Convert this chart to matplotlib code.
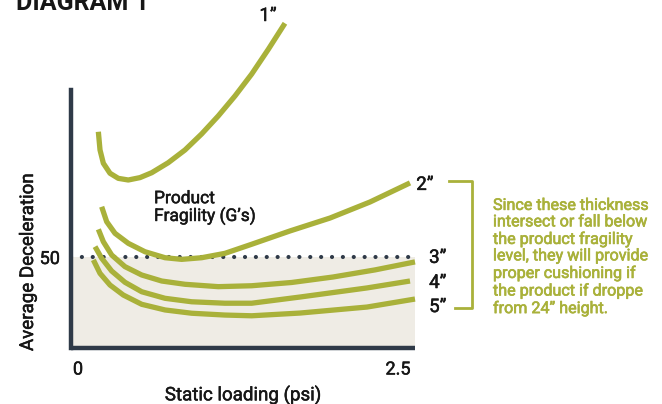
import matplotlib

matplotlib.use("Agg")
import matplotlib.pyplot as plt
import matplotlib.patheffects as pe
from matplotlib.lines import Line2D

plt.rcParams["font.family"] = ["Roboto", "DejaVu Sans"]

# curve data (static loading psi, average deceleration)
x_1in = [0.159, 0.172, 0.198, 0.25, 0.315, 0.393, 0.484, 0.576, 0.705, 0.836, 0.966, 1.096, 1.227, 1.357, 1.487, 1.617]
y_1in = [118.8, 108.8, 101.5, 96.0, 93.2, 92.3, 93.6, 96.3, 101.8, 108.8, 117.6, 127.5, 138.5, 150.5, 164.1, 178.4]
x_2in = [0.185, 0.224, 0.289, 0.393, 0.523, 0.680, 0.810, 0.966, 1.148, 1.357, 1.656, 1.969, 2.281, 2.594]
y_2in = [77.6, 69.4, 63.0, 57.5, 52.9, 49.6, 48.7, 49.6, 52.0, 57.0, 64.3, 71.4, 80.2, 90.7]
x_3in = [0.159, 0.198, 0.263, 0.367, 0.498, 0.654, 0.836, 1.096, 1.357, 1.67, 1.992, 2.32, 2.633]
y_3in = [65.2, 58.4, 51.1, 44.7, 40.1, 36.8, 35.0, 33.7, 34.2, 36.0, 39.0, 42.9, 47.3]
x_4in = [0.133, 0.185, 0.263, 0.367, 0.498, 0.680, 0.888, 1.148, 1.357, 1.734, 2.258, 2.594]
y_4in = [55.7, 49.3, 42.3, 36.1, 30.9, 27.3, 25.4, 24.6, 24.6, 28.0, 33.0, 36.8]
x_5in = [0.120, 0.172, 0.25, 0.354, 0.498, 0.680, 0.888, 1.148, 1.357, 1.734, 2.258, 2.633]
y_5in = [48.4, 41.0, 34.6, 29.1, 24.0, 20.9, 19.1, 18.1, 17.7, 19.2, 22.5, 26.9]

curve_labels = ["1\u201d", "2\u201d", "3\u201d", "4\u201d", "5\u201d"]
label_pos = [(1.484, 182.4), (2.71, 89.6), (2.81, 49.5), (2.81, 35.7), (2.81, 22.5)]
fragility = 50
x_ticks = [0, 2.5]
x_tick_labels = ["0", "2.5"]

OLIVE = "#a9b13a"
DARK = "#2f3a48"
TXT = "#161616"
BEIGE = "#efece5"

W, H = 662, 404
fig = plt.figure(figsize=(W / 100, H / 100), dpi=100)


def px(x, y):
    return x / W, 1 - y / H


def heavy(color, w=0.35):
    return [pe.withStroke(linewidth=w, foreground=color)]


ax = fig.add_axes([71 / W, 56 / H, (415 - 71) / W, (348 - 20) / H])
xmin, xmax = -0.0547, 2.633
ax.set_xlim(xmin, xmax)
ax.set_ylim(0, 180.2)
ax.patch.set_alpha(0)

for side in ["top", "right"]:
    ax.spines[side].set_visible(False)
ax.spines["left"].set_bounds(0, 141.8)
ax.spines["left"].set_linewidth(3.2)
ax.spines["left"].set_color(DARK)
ax.spines["bottom"].set_linewidth(3.2)
ax.spines["bottom"].set_color(DARK)
ax.spines["bottom"].set_capstyle("butt")

ax.fill_between([xmin, xmax], 0, fragility, color=BEIGE, lw=0, zorder=0)
ax.plot([xmin, xmax], [fragility, fragility], color=DARK, lw=3.0,
        linestyle=(0, (0.01, 2.6)), dash_capstyle="round", zorder=2, clip_on=False)

for xs, ys in [(x_1in, y_1in), (x_2in, y_2in), (x_3in, y_3in), (x_4in, y_4in), (x_5in, y_5in)]:
    ax.plot(xs, ys, color=OLIVE, lw=3.8, solid_capstyle="butt", solid_joinstyle="round",
            zorder=3, clip_on=False)

for lab, (lx, ly) in zip(curve_labels, label_pos):
    ax.text(lx, ly, lab, fontsize=13.5, color=TXT, ha="center", va="center", clip_on=False,
            path_effects=heavy(TXT))

ax.set_xticks(x_ticks)
ax.set_xticklabels(x_tick_labels, fontsize=13, color=TXT, path_effects=heavy(TXT))
ax.set_yticks([fragility])
ax.set_yticklabels([str(fragility)], fontsize=13, color=TXT, path_effects=heavy(TXT))
ax.tick_params(length=0, pad=8)
ax.tick_params(axis="x", pad=9)
ax.set_xlabel("Static loading (psi)", fontsize=13.5, color=TXT, labelpad=5,
              path_effects=heavy(TXT))

fig.text(*px(28, 262), "Average Deceleration", rotation=90, fontsize=13.5, color=TXT,
         ha="center", va="center", path_effects=heavy(TXT))
fig.text(*px(154, 208), "Product\nFragility (G\u2019s)", fontsize=12.5, color=TXT,
         ha="left", va="center", linespacing=1.1, path_effects=heavy(TXT))
fig.text(*px(16, 10), "DIAGRAM 1", fontsize=18, fontweight="bold", color=TXT,
         ha="left", va="baseline")

# bracket and note
bx = [px(449, 181)[0], px(472, 181)[0], px(472, 308)[0], px(455, 308)[0]]
by = [px(449, 181)[1], px(472, 181)[1], px(472, 308)[1], px(455, 308)[1]]
fig.add_artist(Line2D(bx, by, color=OLIVE, lw=2.0, transform=fig.transFigure))
note = ("Since these thickness\nintersect or fall below\nthe product fragility\n"
        "level, they will provide\nproper cushioning if\nthe product if droppe\n"
        "from 24\u201d height.")
fig.text(*px(493, 257), note, fontsize=11.6, color=OLIVE,
         ha="left", va="center", linespacing=1.12, path_effects=heavy(OLIVE, 0.45))

fig.savefig("out.png", dpi=100)
